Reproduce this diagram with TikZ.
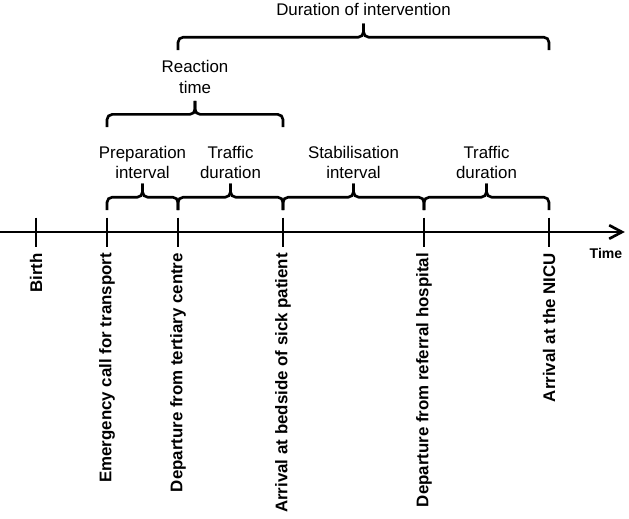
\documentclass[tikz,border=0pt]{standalone}
\usepackage{fontspec}
\setmainfont{Liberation Sans}
\usetikzlibrary{arrows.meta,calc}

% square brace between two axis points, ends at height #3
\newcommand{\intervalbrace}[3]{%
  \draw[bracket] ($(#1)+(0,#3)$) -- ($(#1)+(0,#3+0.32)$) -- ($(#1)!0.5!(#2)+(0,#3+0.32)$) -- ($(#1)!0.5!(#2)+(0,#3+0.66)$);
  \draw[bracket] ($(#2)+(0,#3)$) -- ($(#2)+(0,#3+0.32)$) -- ($(#1)!0.5!(#2)+(0,#3+0.32)$) -- ($(#1)!0.5!(#2)+(0,#3+0.66)$);
}

\begin{document}
\begin{tikzpicture}[
    event/.style={rotate=90, anchor=east, inner sep=0pt, font=\bfseries\fontsize{12}{14}\selectfont},
    span/.style={align=center, inner sep=0pt, font=\fontsize{12}{14.8}\selectfont},
    bracket/.style={line width=1.9pt, rounded corners=0.13cm},
    tick/.style={line width=1.9pt},
    >={Straight Barb[length=0.32cm, width=0.34cm]}
  ]
  \useasboundingbox (0,-7.15) rectangle (15.725,5.8);

  % Time axis
  \coordinate (start) at (0,0);
  \coordinate (end) at (15.62,0);
  \draw[->, line width=1.9pt] (start) -- (end);
  \node[font=\bfseries\fontsize{10}{12}\selectfont] (time) at (15.15,-0.53) {Time};

  % Ticks
  \foreach \n/\x in {1/0.9, 2/2.675, 3/4.45, 4/7.075, 5/10.6, 6/13.725}
  {
    \coordinate (t\n) at (\x,0);
    \draw[tick] ($(t\n)+(0,0.36)$) -- ($(t\n)+(0,-0.38)$);
  }

  % Events
  \node[event] (birth) at ($(t1)+(0,-0.52)$) {Birth};
  \node[event] (call) at ($(t2)+(0,-0.52)$) {Emergency call for transport};
  \node[event] (depart1) at ($(t3)+(0,-0.52)$) {Departure from tertiary centre};
  \node[event] (bedside) at ($(t4)+(0,-0.52)$) {Arrival at bedside of sick patient};
  \node[event] (depart2) at ($(t5)+(0,-0.52)$) {Departure from referral hospital};
  \node[event] (nicu) at ($(t6)+(0,-0.52)$) {Arrival at the NICU};

  % Intervals
  \foreach \a/\b in {2/3, 3/4, 4/5, 5/6}
  {
    \intervalbrace{t\a}{t\b}{0.55}
  }

  \node[span] (prep) at ($(t2)!0.5!(t3)+(0,1.74)$) {Preparation\\interval};
  \node[span] (traffic1) at ($(t3)!0.5!(t4)+(0,1.74)$) {Traffic\\duration};
  \node[span] (stab) at ($(t4)!0.5!(t5)+(0,1.74)$) {Stabilisation\\interval};
  \node[span] (traffic2) at ($(t5)!0.5!(t6)+(0,1.74)$) {Traffic\\duration};

  % Reaction time
  \intervalbrace{t2}{t4}{2.62}
  \node[span] (reaction) at ($(t2)!0.5!(t4)+(0,3.87)$) {Reaction\\time};

  % Duration of intervention
  \intervalbrace{t3}{t6}{4.55}
  \node[span] (duration) at ($(t3)!0.5!(t6)+(0,5.57)$) {Duration of intervention};

\end{tikzpicture}
\end{document}
